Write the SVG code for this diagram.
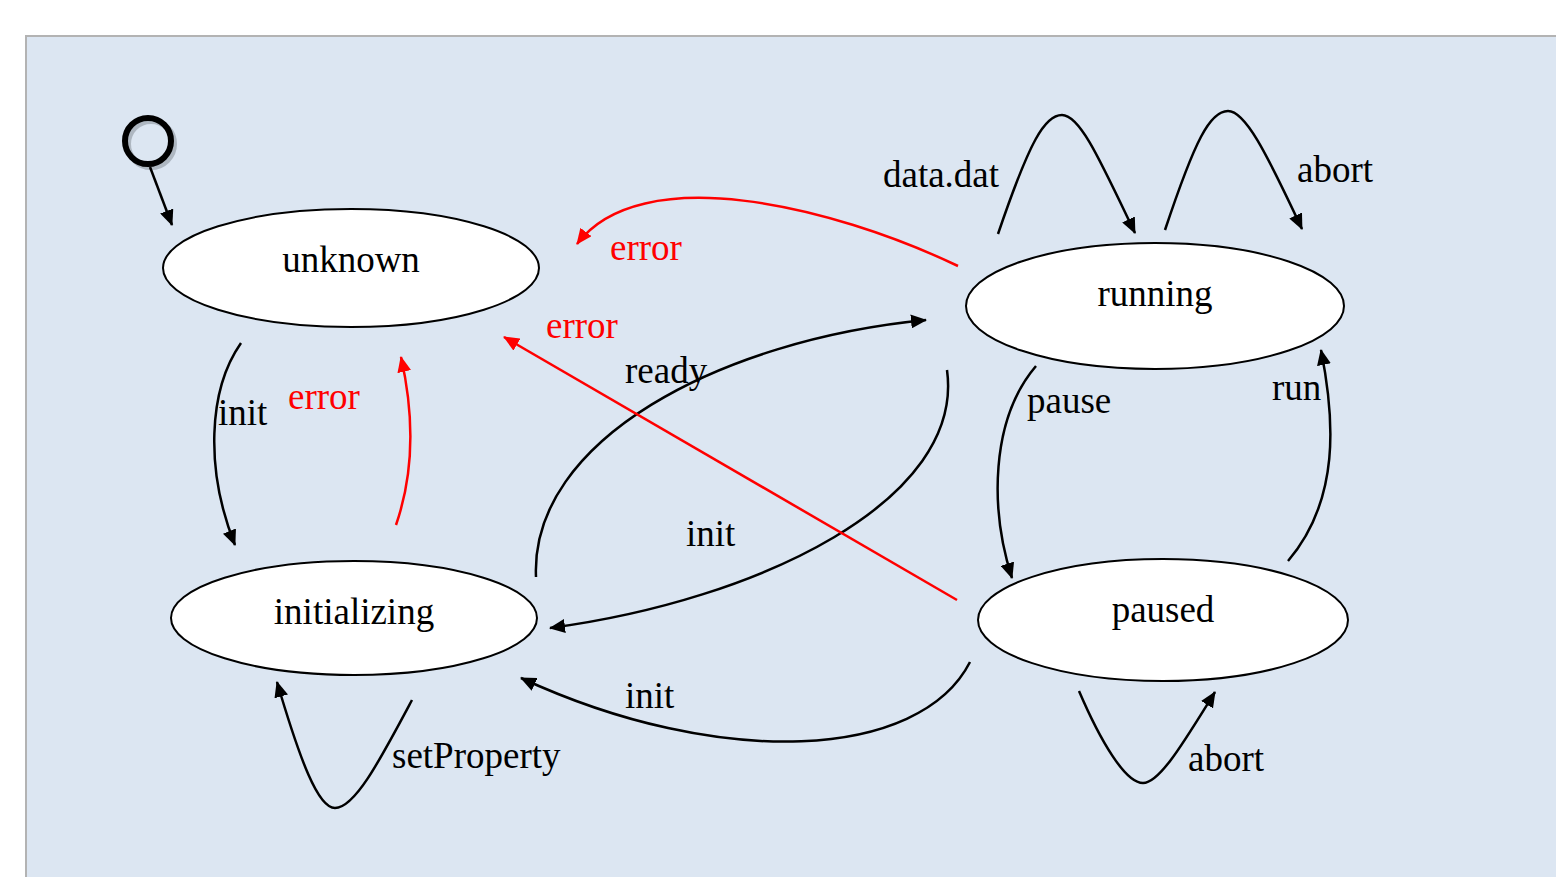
<svg xmlns="http://www.w3.org/2000/svg" width="1556" height="877" viewBox="0 0 1556 877">
<defs>
<style>
.st{fill:#fff;stroke:#000;stroke-width:2}
.t{font-family:"Liberation Serif","Times New Roman",serif;font-size:37px;fill:#000}
.r{fill:#ff0000}
.e{fill:none;stroke:#000;stroke-width:2.5}
.er{fill:none;stroke:#ff0000;stroke-width:2.5}
</style>
<marker id="ab" viewBox="0 0 16 14" refX="15" refY="7" markerWidth="16" markerHeight="14" markerUnits="userSpaceOnUse" orient="auto"><path d="M0,0 L16,7 L0,14 Z" fill="#000"/></marker>
<marker id="ar" viewBox="0 0 16 14" refX="15" refY="7" markerWidth="16" markerHeight="14" markerUnits="userSpaceOnUse" orient="auto"><path d="M0,0 L16,7 L0,14 Z" fill="#ff0000"/></marker>
</defs>
<rect x="0" y="0" width="1556" height="877" fill="#fff"/>
<rect x="26" y="36" width="1545" height="860" fill="#dce6f2" stroke="#b3b3b3" stroke-width="2"/>

<g id="start">
<circle cx="151" cy="144" r="23" fill="none" stroke="#9aa3ad" stroke-width="6" opacity="0.7"/>
<circle cx="148" cy="141" r="23" fill="none" stroke="#000" stroke-width="6"/>
</g>
<g id="unknown"><ellipse class="st" cx="351" cy="268" rx="188" ry="59"/><text class="t" x="351" y="272" text-anchor="middle">unknown</text></g>
<g id="initializing"><ellipse class="st" cx="354" cy="618" rx="183" ry="57"/><text class="t" x="354" y="624" text-anchor="middle">initializing</text></g>
<g id="running"><ellipse class="st" cx="1155" cy="306" rx="189" ry="63"/><text class="t" x="1155" y="306" text-anchor="middle">running</text></g>
<g id="paused"><ellipse class="st" cx="1163" cy="620" rx="185" ry="61"/><text class="t" x="1163" y="622" text-anchor="middle">paused</text></g>

<g id="connectors">
<path class="e" d="M150,167 L172,225" marker-end="url(#ab)"/>
<path class="e" d="M241,343 C208,390 205,470 235,545" marker-end="url(#ab)"/>
<path class="er" d="M396,525 C415,470 413,410 401,357" marker-end="url(#ar)"/>
<path class="e" d="M536,577 C530,440 720,340 926,320" marker-end="url(#ab)"/>
<path class="e" d="M947,370 C965,500 760,600 550,628" marker-end="url(#ab)"/>
<path class="e" d="M970,662 C920,760 720,770 521,678" marker-end="url(#ab)"/>
<path class="er" d="M958,266 C830,205 640,160 577,244" marker-end="url(#ar)"/>
<path class="er" d="M957,600 L504,337" marker-end="url(#ar)"/>
<path class="e" d="M1036,366 C990,420 990,510 1012,578" marker-end="url(#ab)"/>
<path class="e" d="M1288,561 C1340,500 1335,420 1321,350" marker-end="url(#ab)"/>
<path class="e" d="M998,234 C1030,140 1045,115 1062,115 C1080,115 1100,160 1135,233" marker-end="url(#ab)"/>
<path class="e" d="M1165,230 C1195,140 1210,111 1228,111 C1245,111 1265,150 1302,229" marker-end="url(#ab)"/>
<path class="e" d="M412,700 C380,760 355,808 335,808 C318,808 300,760 277,682" marker-end="url(#ab)"/>
<path class="e" d="M1079,691 C1100,740 1125,783 1143,783 C1160,783 1185,740 1215,692" marker-end="url(#ab)"/>
</g>

<g id="labels">
<text class="t" x="883" y="187">data.dat</text>
<text class="t" x="1297" y="182">abort</text>
<text class="t r" x="610" y="260">error</text>
<text class="t r" x="546" y="338">error</text>
<text class="t" x="625" y="383">ready</text>
<text class="t" x="686" y="546">init</text>
<text class="t" x="218" y="425">init</text>
<text class="t r" x="288" y="409">error</text>
<text class="t" x="1027" y="413">pause</text>
<text class="t" x="1272" y="400">run</text>
<text class="t" x="625" y="708">init</text>
<text class="t" x="392" y="768">setProperty</text>
<text class="t" x="1188" y="771">abort</text>
</g>
</svg>
